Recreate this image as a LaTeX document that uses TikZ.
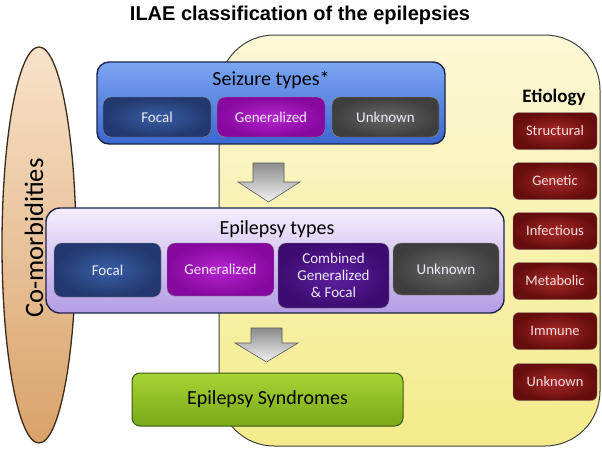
\documentclass[tikz,border=0pt]{standalone}
\usepackage{fontspec}
\setmainfont{Carlito}
\newfontfamily\titlefont{Liberation Sans}
\usetikzlibrary{shapes.geometric}
\definecolor{ylwtop}{HTML}{FCF8D6}
\definecolor{ylwbot}{HTML}{F4EB8A}
\definecolor{ylwline}{HTML}{404040}
\definecolor{elltop}{HTML}{F8E2CA}
\definecolor{ellbot}{HTML}{D9A26A}
\definecolor{ellline}{HTML}{3A2A1A}
\definecolor{seiztop}{HTML}{7BA6F2}
\definecolor{seizbot}{HTML}{3A66D0}
\definecolor{navyline}{HTML}{1A2548}
\definecolor{focin}{HTML}{3A5EA6}
\definecolor{focout}{HTML}{22386E}
\definecolor{genin}{HTML}{B624D0}
\definecolor{genout}{HTML}{86089E}
\definecolor{unkin}{HTML}{676767}
\definecolor{unkout}{HTML}{3E3E3E}
\definecolor{combin}{HTML}{5E20A2}
\definecolor{combout}{HTML}{3C0C70}
\definecolor{epitop}{HTML}{F4EEFD}
\definecolor{epibot}{HTML}{B49CE4}
\definecolor{grntop}{HTML}{A8D434}
\definecolor{grnmid}{HTML}{CBEA62}
\definecolor{grnbot}{HTML}{78A81A}
\definecolor{grnline}{HTML}{3A5A10}
\definecolor{redin}{HTML}{A82A2A}
\definecolor{redout}{HTML}{650C0C}
\definecolor{lbltxt}{HTML}{EEEAF6}
\definecolor{redtxt}{HTML}{F6DEDE}
\tikzset{
  headtxt/.style={font=\fontsize{20}{22}\selectfont, text=black},
  inbox/.style={rounded corners=8pt, inner sep=0pt, draw=black!45, line width=0.4pt,
    font=\fontsize{15}{17}\selectfont, text=lbltxt, align=center},
  focbox/.style={inbox, inner color=focin, outer color=focout},
  genbox/.style={inbox, inner color=genin, outer color=genout},
  unkbox/.style={inbox, inner color=unkin, outer color=unkout},
  combbox/.style={inbox, inner color=combin, outer color=combout},
  etibox/.style={rounded corners=6pt, inner sep=0pt, minimum width=84pt, minimum height=37pt,
    draw=black!50, line width=0.4pt, inner color=redin, outer color=redout,
    font=\fontsize{14.5}{16.5}\selectfont, text=redtxt},
  blockarrow/.style={draw=black!65, line width=0.6pt, top color=black!45, bottom color=black!5},
}
\begin{document}
\begin{tikzpicture}[x=1pt,y=-1pt]
\useasboundingbox (0,0) rectangle (602,448);
% title
\node[font=\titlefont\bfseries\fontsize{20}{24}\selectfont] (title) at (300,15) {ILAE classification of the epilepsies};
% yellow etiology region
\draw[draw=ylwline, line width=1pt, rounded corners=55pt, top color=ylwtop, bottom color=ylwbot]
  (219,35) rectangle (600,446);
% co-morbidities ellipse
\node[ellipse, minimum width=74pt, minimum height=396pt, draw=ellline, line width=1.3pt,
  top color=elltop, bottom color=ellbot, inner sep=0pt] (como) at (39,245) {};
\node[rotate=90, font=\fontsize{26.5}{28}\selectfont] (comotxt) at (34,238) {Co-morbidities};
% seizure types
\node[rounded corners=12pt, minimum width=348pt, minimum height=82pt, draw=navyline, line width=1.4pt,
  top color=seiztop, bottom color=seizbot] (seiz) at (271,103) {};
\node[headtxt] (seiztxt) at (271,80) {Seizure types*};
\node[focbox, minimum width=108pt, minimum height=40pt] (sfoc) at (157,117) {Focal};
\node[genbox, minimum width=108pt, minimum height=40pt] (sgen) at (271,117) {Generalized};
\node[unkbox, minimum width=107pt, minimum height=40pt] (sunk) at (385.5,117) {Unknown};
% arrow 1
\draw[blockarrow] (253,163) -- (284,163) -- (284,182) -- (300,182) -- (268.5,202) -- (238,182) -- (253,182) -- cycle;
% epilepsy types
\node[rounded corners=14pt, minimum width=458pt, minimum height=105pt, draw=navyline, line width=1.4pt,
  top color=epitop, bottom color=epibot] (epi) at (275,260.5) {};
\node[headtxt] (epitxt) at (277,229) {Epilepsy types};
\node[focbox, minimum width=107pt, minimum height=54pt] (efoc) at (107.5,270) {Focal};
\node[genbox, minimum width=107pt, minimum height=53pt] (egen) at (220.5,269.5) {Generalized};
\node[combbox, minimum width=111pt, minimum height=65pt] (ecomb) at (333.5,275.5) {Combined\\Generalized\\\& Focal};
\node[unkbox, minimum width=106pt, minimum height=52pt] (eunk) at (446,269) {Unknown};
% arrow 2
\draw[blockarrow] (251,328) -- (282,328) -- (282,343) -- (298,343) -- (266.5,362) -- (235,343) -- (251,343) -- cycle;
% syndromes
\node[rounded corners=8pt, minimum width=271pt, minimum height=53pt, draw=grnline, line width=1pt,
  top color=grntop, middle color=grnmid, bottom color=grnbot, headtxt] (synd) at (267.5,399.5) {Epilepsy Syndromes};
% etiology
\node[font=\bfseries\fontsize{19}{21}\selectfont] (eti) at (554,97) {Etiology};
\node[etibox] (e1) at (555,131) {Structural};
\node[etibox] (e2) at (555,181) {Genetic};
\node[etibox] (e3) at (555,231) {Infectious};
\node[etibox] (e4) at (555,281) {Metabolic};
\node[etibox] (e5) at (555,331) {Immune};
\node[etibox] (e6) at (555,382) {Unknown};
\end{tikzpicture}
\end{document}
